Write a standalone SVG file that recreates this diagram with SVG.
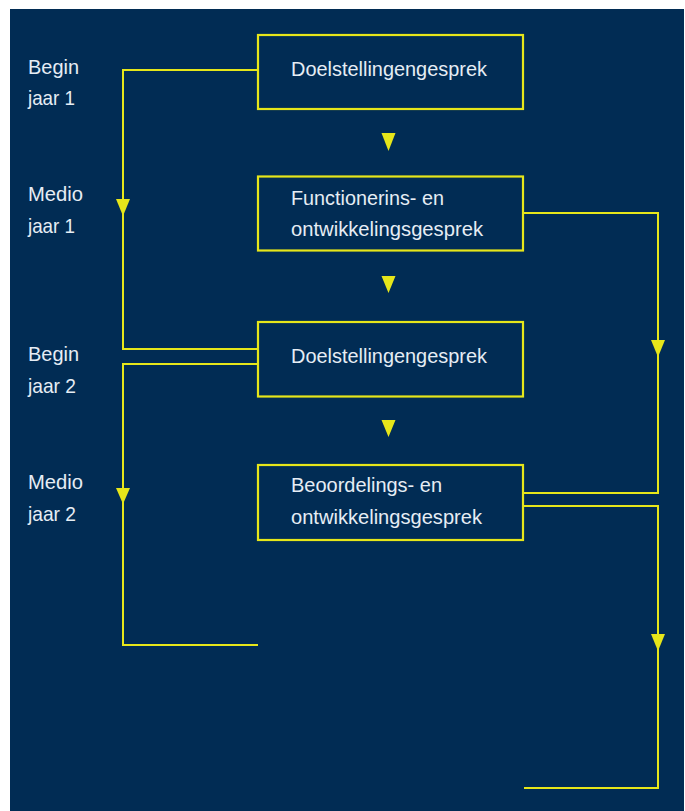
<svg xmlns="http://www.w3.org/2000/svg" width="685" height="811" viewBox="0 0 685 811">
<style>
.bg{fill:#012c54}
.box{fill:none;stroke:#e6e61a;stroke-width:2.2}
.ln{fill:none;stroke:#e6e61a;stroke-width:2}
.ah{fill:#e6e61a}
text{font-family:"Liberation Sans",Arial,sans-serif;font-size:21px;fill:#e6edf4}
</style>
<rect x="0" y="0" width="685" height="811" fill="#ffffff"/>
<rect class="bg" x="10" y="9" width="674" height="802"/>
<g id="labels">
<text x="28" y="74" textLength="51" lengthAdjust="spacingAndGlyphs">Begin</text>
<text x="28" y="105" textLength="47" lengthAdjust="spacingAndGlyphs">jaar 1</text>
<text x="28" y="201" textLength="55" lengthAdjust="spacingAndGlyphs">Medio</text>
<text x="28" y="233" textLength="47" lengthAdjust="spacingAndGlyphs">jaar 1</text>
<text x="28" y="361" textLength="51" lengthAdjust="spacingAndGlyphs">Begin</text>
<text x="28" y="393" textLength="48" lengthAdjust="spacingAndGlyphs">jaar 2</text>
<text x="28" y="489" textLength="55" lengthAdjust="spacingAndGlyphs">Medio</text>
<text x="28" y="521" textLength="48" lengthAdjust="spacingAndGlyphs">jaar 2</text>
</g>
<g id="connectors">
<path class="ln" d="M258,70 H123 V349 H258"/>
<path class="ln" d="M258,364 H123 V645 H258"/>
<path class="ln" d="M524,213 H658 V493 H524"/>
<path class="ln" d="M524,506 H658 V788 H524"/>
<polygon class="ah" points="116,199 130,199 123,216"/>
<polygon class="ah" points="116,488 130,488 123,504"/>
<polygon class="ah" points="651,340 665,340 658,357"/>
<polygon class="ah" points="651,634 665,634 658,651"/>
<polygon class="ah" points="381.5,133 395.5,133 388.5,151"/>
<polygon class="ah" points="381.5,276 395.5,276 388.5,293"/>
<polygon class="ah" points="381.5,420 395.5,420 388.5,437"/>
</g>
<g id="node1">
<rect class="box" x="258" y="35" width="265" height="74"/>
<text x="291" y="76" textLength="196" lengthAdjust="spacingAndGlyphs">Doelstellingengesprek</text>
</g>
<g id="node2">
<rect class="box" x="258" y="176.5" width="265" height="74"/>
<text x="291" y="205" textLength="153" lengthAdjust="spacingAndGlyphs">Functionerins- en</text>
<text x="291" y="236" textLength="192" lengthAdjust="spacingAndGlyphs">ontwikkelingsgesprek</text>
</g>
<g id="node3">
<rect class="box" x="258" y="322" width="265" height="74.5"/>
<text x="291" y="363" textLength="196" lengthAdjust="spacingAndGlyphs">Doelstellingengesprek</text>
</g>
<g id="node4">
<rect class="box" x="258" y="465" width="265" height="75"/>
<text x="291" y="492" textLength="151" lengthAdjust="spacingAndGlyphs">Beoordelings- en</text>
<text x="291" y="524" textLength="191" lengthAdjust="spacingAndGlyphs">ontwikkelingsgesprek</text>
</g>
</svg>
